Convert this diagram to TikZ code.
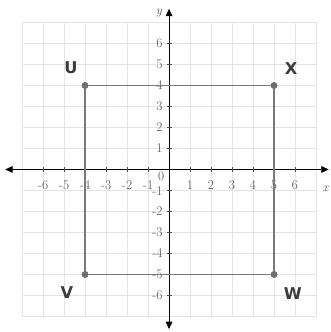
\documentclass[tikz,border=0pt]{standalone}
\usepackage{fontspec}
\newfontfamily\labfont{DejaVu Sans}
\usetikzlibrary{arrows.meta}
\definecolor{gridc}{HTML}{E4E4E4}
\definecolor{rectc}{HTML}{7A7A7A}
\definecolor{dotc}{HTML}{6E6E6E}
\definecolor{labc}{HTML}{3C3C3C}
\definecolor{tickc}{HTML}{505050}
\begin{document}
\begin{tikzpicture}[x=1cm,y=1cm,
  gridline/.style={gridc, line width=0.8pt},
  axis/.style={black, line width=1.1pt, -{Triangle[length=10pt,width=9pt]}},
  tickmark/.style={tickc, line width=0.6pt},
  ticklab/.style={text=tickc, font=\fontsize{18}{18}\selectfont, inner sep=0pt},
  rectline/.style={rectc, line width=1.5pt},
  dot/.style={circle, fill=dotc, inner sep=0pt, minimum size=9pt},
  ptlab/.style={text=labc, font=\labfont\bfseries\fontsize{22}{22}\selectfont, inner sep=0pt},
  axlab/.style={text=tickc, font=\itshape\fontsize{17}{17}\selectfont, inner sep=0pt}]
\useasboundingbox (-8.05,-7.74) rectangle (7.67,8.07);
\fill[white] (-8.05,-7.74) rectangle (7.67,8.07);
% grid
\foreach \i in {-7,...,7} {
  \draw[gridline] (\i,-7) -- (\i,7);
  \draw[gridline] (-7,\i) -- (7,\i);
}
% axes
\coordinate (xl) at (-7.8,0);
\coordinate (xr) at (7.6,0);
\coordinate (yb) at (0,-7.6);
\coordinate (yt) at (0,7.65);
\draw[axis] (0,0) -- (xr);
\draw[axis] (0,0) -- (xl);
\draw[axis] (0,0) -- (yt);
\draw[axis] (0,0) -- (yb);
% ticks and labels
\foreach \i in {-6,...,-1,1,2,...,6} {
  \draw[tickmark] (\i,-0.12) -- (\i,0.12);
  \draw[tickmark] (-0.12,\i) -- (0.12,\i);
  \node[ticklab] (xt\i) at (\i,-0.75) {\i};
}
\foreach \i in {1,...,6} {
  \node[ticklab, anchor=east] (yt\i) at (-0.3,\i) {\i};
}
\foreach \i in {-6,...,-2} {
  \node[ticklab, anchor=east] (ytm\i) at (-0.3,\i) {\i};
}
\node[ticklab, anchor=east] (ytm1) at (-0.3,-1.05) {-1};
\node[ticklab] (zero) at (-0.38,-0.32) {0};
\node[axlab] (ylab) at (-0.48,7.45) {y};
\node[axlab] (xlab) at (7.45,-0.9) {x};
% rectangle
\node[dot] (U) at (-4,4) {};
\node[dot] (X) at (5,4) {};
\node[dot] (W) at (5,-5) {};
\node[dot] (V) at (-4,-5) {};
\draw[rectline] (U.center) -- (X.center) -- (W.center) -- (V.center) -- (U.center);
\node[dot] at (U) {};
\node[dot] at (X) {};
\node[dot] at (W) {};
\node[dot] at (V) {};
% labels
\node[ptlab] (Ul) at (-4.67,4.83) {U};
\node[ptlab] (Xl) at (5.81,4.79) {X};
\node[ptlab] (Vl) at (-4.86,-5.88) {V};
\node[ptlab] (Wl) at (5.9,-5.93) {W};
\end{tikzpicture}
\end{document}
